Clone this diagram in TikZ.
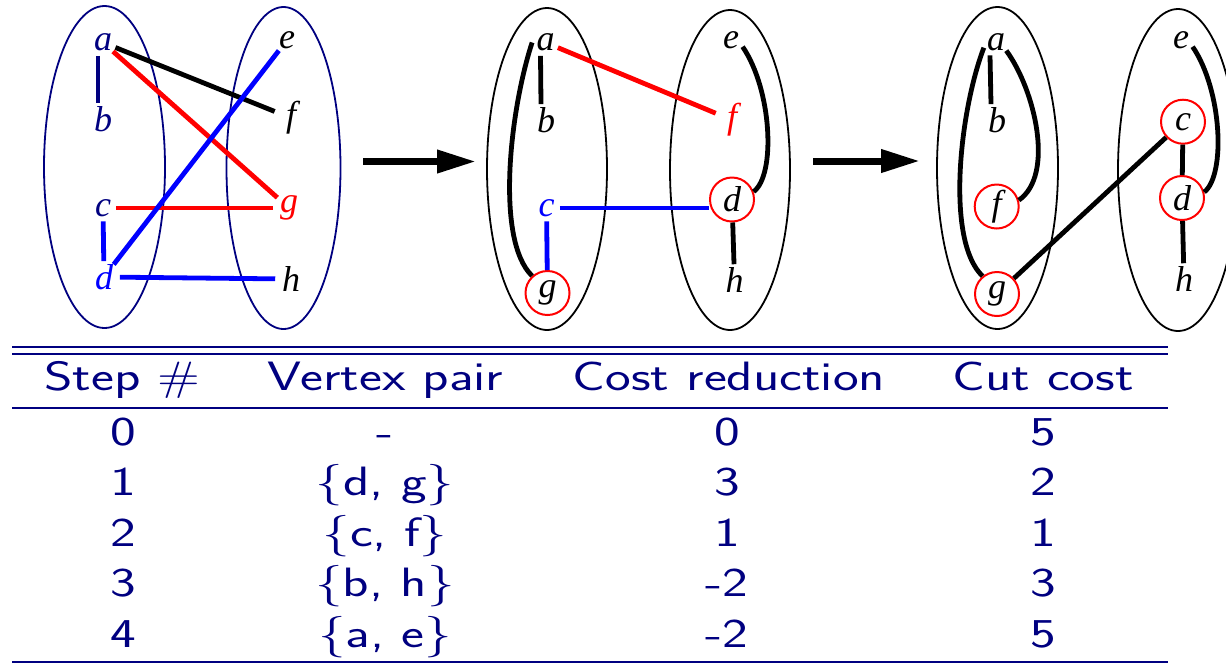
\documentclass[tikz,border=0pt]{standalone}
\usepackage{fontspec}
\usepackage{graphicx}
\newfontfamily\lblfont{Liberation Serif}
\usetikzlibrary{arrows.meta}
\definecolor{navy}{RGB}{0,0,128}
\definecolor{pureblue}{RGB}{0,0,255}
\definecolor{purered}{RGB}{255,0,0}
\newcommand{\tabtxt}[1]{\scalebox{1.33}[1]{#1}}
\begin{document}
\begin{tikzpicture}[x=0.5pt,y=-0.5pt,
  vtx/.style={circle, inner sep=0pt, minimum size=13pt, font=\lblfont\itshape\fontsize{18}{18}\selectfont},
  cvtx/.style={vtx, draw=purered, line width=1pt, minimum size=22pt},
  grp/.style={line width=0.9pt},
  edge/.style={line width=2.4pt},
  bigarrow/.style={line width=3.5pt, -{Triangle[length=19.5pt,width=11pt]}},
  tabrule/.style={navy, line width=1.1pt},
  cell/.style={anchor=base, inner sep=0pt, text=navy, font=\sffamily\fontsize{20.5}{24}\selectfont},
]
\useasboundingbox (0,0) rectangle (1226,666);

% ---------- group outlines ----------
\draw[grp,navy] (104.5,167) ellipse [x radius=60.5, y radius=161];
\draw[grp,navy] (283.5,168) ellipse [x radius=57, y radius=161];
\draw[grp] (547,169) ellipse [x radius=60, y radius=161];
\draw[grp] (730,170) ellipse [x radius=60, y radius=160];
\draw[grp] (997.5,168) ellipse [x radius=60.5, y radius=161];
\draw[grp] (1178,170) ellipse [x radius=60, y radius=161];

% ---------- panel 1 ----------
\node[vtx,text=navy] (a1) at (103,42.5) {a};
\node[vtx,text=navy] (b1) at (103,119) {b};
\node[vtx,text=navy] (c1) at (103,208) {c};
\node[vtx,text=pureblue] (d1) at (104,277) {d};
\node[vtx] (e1) at (287,40) {e};
\node[vtx] (f1) at (291,118) {f};
\node[vtx,text=purered] (g1) at (289,208) {g};
\node[vtx] (h1) at (291,279) {h};

\draw[edge,navy] ([xshift=-2.5pt]a1.south) -- ([xshift=-2.5pt]b1.north);
\draw[edge] (a1) -- (f1);
\draw[edge,purered] (a1) -- (g1);
\draw[edge,purered] (c1) -- (g1);
\draw[edge,pureblue] (c1) -- (d1);
\draw[edge,pureblue] (d1) -- (e1);
\draw[edge,pureblue] (d1) -- (h1);

% ---------- panel 2 ----------
\node[vtx] (a2) at (545.5,42.5) {a};
\node[vtx] (b2) at (546,120) {b};
\node[vtx,text=pureblue] (c2) at (546.5,208) {c};
\node[cvtx] (g2) at (547.5,293) {g};
\node[vtx] (e2) at (731,40) {e};
\node[vtx,text=purered] (f2) at (732,120) {f};
\node[cvtx] (d2) at (732,199.5) {d};
\node[vtx] (h2) at (734.5,280) {h};

\draw[edge] ([xshift=-2.5pt]a2.south) -- ([xshift=-2.5pt]b2.north);
\draw[edge] (a2.west) .. controls (510,110) and (495,240) .. (g2.132);
\draw[edge,purered] (a2) -- (f2);
\draw[edge,pureblue] (c2) -- (g2);
\draw[edge,pureblue] (c2) -- (c2 -| d2.west);
\draw[edge] (e2.-30) .. controls (772,90) and (776,175) .. (d2.20);
\draw[edge] (d2) -- (h2);

% ---------- panel 3 ----------
\node[vtx] (a3) at (996,42) {a};
\node[vtx] (b3) at (997,120) {b};
\node[cvtx] (f3) at (996.7,206.5) {f};
\node[cvtx] (g3) at (997,294) {g};
\node[vtx] (e3) at (1181,40) {e};
\node[cvtx] (c3) at (1183,121.7) {c};
\node[cvtx] (d3) at (1182,198) {d};
\node[vtx] (h3) at (1184,279) {h};

\draw[edge] ([xshift=-3pt]a3.south) -- ([xshift=-3pt]b3.north);
\draw[edge] (a3.205) .. controls (960,110) and (945,240) .. (g3.129);
\draw[edge] (a3.-40) .. controls (1035,90) and (1055,175) .. (f3.16);
\draw[edge] (g3) -- (c3);
\draw[edge] (c3) -- (d3);
\draw[edge] (e3.-30) .. controls (1222,90) and (1226,175) .. (d3.15);
\draw[edge] (d3) -- (h3);

% ---------- arrows between panels ----------
\coordinate (r1s) at (363,161.5);
\coordinate (r1e) at (476,161.5);
\coordinate (r2s) at (813,161);
\coordinate (r2e) at (920,161);
\draw[bigarrow] (r1s) -- (r1e);
\draw[bigarrow] (r2s) -- (r2e);

% ---------- table ----------
\draw[tabrule] (12,347) -- (1168,347);
\draw[tabrule] (12,354) -- (1168,354);
\draw[tabrule] (12,408) -- (1168,408);
\draw[tabrule] (12,662) -- (1168,662);

\node[cell] (th1) at (122.5,390) {\tabtxt{Step \#}};
\node[cell] (th2) at (385.5,390) {\tabtxt{Vertex pair}};
\node[cell] (th3) at (729,390) {\tabtxt{Cost reduction}};
\node[cell] (th4) at (1043,390) {\tabtxt{Cut cost}};

\node[cell] (t01) at (123,445) {\tabtxt{0}};
\node[cell] (t02) at (385,445) {\tabtxt{-}};
\node[cell] (t03) at (727,445) {\tabtxt{0}};
\node[cell] (t04) at (1043.5,445) {\tabtxt{5}};

\node[cell] (t11) at (123,495.5) {\tabtxt{1}};
\node[cell] (t12) at (385,495.5) {\tabtxt{$\{$d, g$\}$}};
\node[cell] (t13) at (727,495.5) {\tabtxt{3}};
\node[cell] (t14) at (1043.5,495.5) {\tabtxt{2}};

\node[cell] (t21) at (123,546) {\tabtxt{2}};
\node[cell] (t22) at (385,546) {\tabtxt{$\{$c, f$\}$}};
\node[cell] (t23) at (727,546) {\tabtxt{1}};
\node[cell] (t24) at (1043.5,546) {\tabtxt{1}};

\node[cell] (t31) at (123,596.5) {\tabtxt{3}};
\node[cell] (t32) at (385,596.5) {\tabtxt{$\{$b, h$\}$}};
\node[cell] (t33) at (727,596.5) {\tabtxt{-2}};
\node[cell] (t34) at (1043.5,596.5) {\tabtxt{3}};

\node[cell] (t41) at (123,647) {\tabtxt{4}};
\node[cell] (t42) at (385,647) {\tabtxt{$\{$a, e$\}$}};
\node[cell] (t43) at (727,647) {\tabtxt{-2}};
\node[cell] (t44) at (1043.5,647) {\tabtxt{5}};
\end{tikzpicture}
\end{document}
